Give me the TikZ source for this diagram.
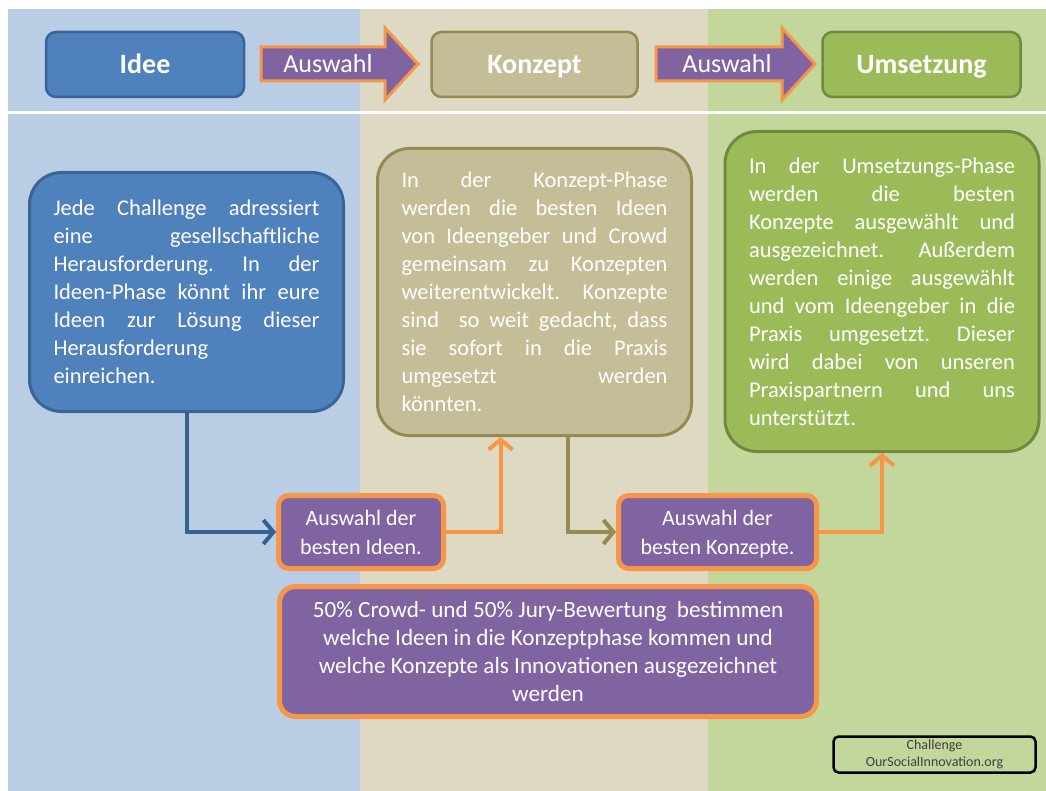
\documentclass[tikz,border=0pt]{standalone}
\usepackage{fontspec}
\setmainfont{Carlito}
\usetikzlibrary{positioning, arrows.meta}

\definecolor{bgblau}{HTML}{B9CDE5}
\definecolor{bgbeige}{HTML}{DDD9C3}
\definecolor{bggruen}{HTML}{C3D69B}
\definecolor{ideeblau}{HTML}{4F81BD}
\definecolor{ideerand}{HTML}{3A6496}
\definecolor{konzeptbeige}{HTML}{C4BD97}
\definecolor{konzeptrand}{HTML}{948A54}
\definecolor{umsetzgruen}{HTML}{9BBB59}
\definecolor{umsetzrand}{HTML}{71893F}
\definecolor{lila}{HTML}{8064A2}
\definecolor{auswahlorange}{HTML}{F79646}
\definecolor{pfeilblau}{HTML}{376092}
\definecolor{schildgrau}{HTML}{404040}

\tikzset{
    x=1pt, y=-1pt, % pixel coordinates, y runs downwards
    >={Straight Barb[length=10pt,width=24pt]}, % open arrow heads
    kopf/.style={draw, line width=2.5pt, rounded corners=10pt, minimum width=198pt, minimum height=65pt, text height=19pt, text depth=0pt, text=white, font=\fontsize{28}{34}\selectfont\bfseries},
    pfeilform/.style={draw=auswahlorange, fill=lila, line width=3pt}, % the big "Auswahl" arrows
    pfeiltext/.style={text=white, font=\fontsize{26}{30}\selectfont},
    textbox/.style={draw, line width=3pt, rounded corners=32pt, text width=266pt, inner xsep=24pt, align=justify, text=white, font=\fontsize{22.5}{28}\selectfont, execute at begin node={\tolerance=10000\hyphenpenalty=10000\frenchspacing}},
    auswahlbox/.style={draw=auswahlorange, fill=lila, line width=5pt, rounded corners=10pt, text depth=0pt, text=white, align=center, font=\fontsize{22}{29}\selectfont},
    verbindung/.style={->, line width=4pt},
}

\begin{document}
\begin{tikzpicture}
    \useasboundingbox (0,0) rectangle (1046,791);
    % columns
    \fill[bgblau] (8,9) rectangle (360,791);
    \fill[bgbeige] (360,9) rectangle (708,791);
    \fill[bggruen] (708,9) rectangle (1046,791);
    \draw[white, line width=3pt] (8,113) -- (1046,113);

    % top row
    \node[kopf, fill=ideeblau, draw=ideerand] (idee) at (145,64.5) {Idee};
    \node[kopf, fill=konzeptbeige, draw=konzeptrand, minimum width=206pt, right of=idee, node distance=389.5pt] (konzept) {Konzept};
    \node[kopf, fill=umsetzgruen, draw=umsetzrand, right of=konzept, node distance=387pt] (umsetzung) {Umsetzung};
    \draw[pfeilform] (261,47) -- ++(124,0) -- ++(0,-19) -- ++(33,36) -- ++(-33,36) -- ++(0,-19) -- ++(-124,0) -- cycle;
    \node[pfeiltext] (auswahl1) at (328,64) {Auswahl};
    \draw[pfeilform] (656,47) -- ++(126,0) -- ++(0,-19) -- ++(33,36) -- ++(-33,36) -- ++(0,-19) -- ++(-126,0) -- cycle;
    \node[pfeiltext] (auswahl2) at (727,64) {Auswahl};

    % phase texts
    \node[textbox, fill=ideeblau, draw=ideerand, minimum height=239pt] (ideetext) at (186.5,292) {Jede Challenge adressiert\linebreak eine gesellschaftliche\linebreak Herausforderung. In der\linebreak Ideen-Phase könnt ihr eure\linebreak Ideen zur Lösung dieser\linebreak Herausforderung\newline einreichen.};
    \node[textbox, fill=konzeptbeige, draw=konzeptrand, minimum height=287pt] (konzepttext) at (534.5,292) {In der Konzept-Phase\linebreak werden die besten Ideen\linebreak von Ideengeber und Crowd\linebreak gemeinsam zu Konzepten\linebreak weiterentwickelt. Konzepte\linebreak sind~ so weit gedacht, dass\linebreak sie sofort in die Praxis\linebreak umgesetzt werden\linebreak könnten.};
    \node[textbox, fill=umsetzgruen, draw=umsetzrand, minimum height=320pt] (umsetzungtext) at (882,291.5) {In der Umsetzungs-Phase\linebreak werden die besten\linebreak Konzepte ausgewählt und\linebreak ausgezeichnet. Außerdem\linebreak werden einige ausgewählt\linebreak und vom Ideengeber in die\linebreak Praxis umgesetzt. Dieser\linebreak wird dabei von unseren\linebreak Praxispartnern und uns\linebreak unterstützt.};

    % selection
    \node[auswahlbox, minimum width=165pt, minimum height=73pt] (auswahlideen) at (361,532) {Auswahl der\\besten Ideen.};
    \node[auswahlbox, minimum width=198pt, minimum height=73pt] (auswahlkonzepte) at (717.5,532) {Auswahl der\\besten Konzepte.};
    \node[auswahlbox, rounded corners=16pt, minimum width=537pt, minimum height=130pt, font=\fontsize{23.2}{28}\selectfont] (bewertung) at (548,651.5) {50\% Crowd- und 50\% Jury-Bewertung~ bestimmen\\welche Ideen in die Konzeptphase kommen und\\welche Konzepte als Innovationen ausgezeichnet\\werden};

    \draw[verbindung, pfeilblau] (ideetext.south) |- (auswahlideen.west);
    \draw[verbindung, auswahlorange] (auswahlideen.east) -| ([xshift=-34pt]konzepttext.south);
    \draw[verbindung, konzeptrand] ([xshift=33pt]konzepttext.south) |- (auswahlkonzepte.west);
    \draw[verbindung, auswahlorange] (auswahlkonzepte.east) -| (umsetzungtext.south);

    \node[draw=black, line width=2.5pt, rounded corners=5pt, minimum width=202pt, minimum height=36pt, align=center, text=schildgrau, font=\fontsize{14}{17}\selectfont] (challenge) at (934.5,754.5) {Challenge\\OurSocialInnovation.org};
\end{tikzpicture}
\end{document}
